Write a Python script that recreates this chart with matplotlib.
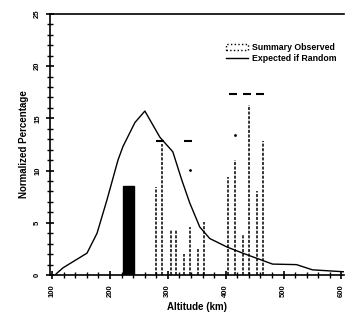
import matplotlib
matplotlib.use('Agg')
import matplotlib.pyplot as plt
from matplotlib.patches import Patch
from matplotlib.lines import Line2D
from matplotlib.ticker import MultipleLocator

# expected-if-random curve
curve_x = [105.2, 108.6, 119.0, 160.3, 177.6, 194.8, 213.8, 222.4, 243.1, 260.3,
           286.2, 308.6, 324.1, 337.9, 355.2, 372.4, 401.7, 429.3, 463.8, 481.0,
           522.4, 550.0, 608.6]
curve_y = [0.0, 0.2, 0.7, 2.1, 4.0, 7.2, 11.0, 12.3, 14.6, 15.7,
           13.2, 11.8, 9.1, 6.9, 4.6, 3.5, 2.7, 2.1, 1.4, 1.05,
           1.0, 0.5, 0.3]

# observed summary
big_x = 232.8
big_h = 8.5
obs_x = [279.3, 289.7, 305.2, 313.8, 327.6, 337.9, 351.7, 362.1, 403.4, 415.5,
         429.3, 439.7, 453.4, 463.8]
obs_h = [8.4, 12.5, 4.3, 4.3, 2.0, 4.6, 2.6, 5.1, 9.4, 11.0,
         3.8, 16.3, 8.0, 12.8]
cap_x = [286.2, 334.5, 412.0, 436.0, 460.0]
cap_y = [12.8, 12.8, 17.3, 17.3, 17.3]
dot_x = [337.9, 415.5]
dot_y = [10.1, 13.4]

xticks = [100, 200, 300, 400, 500, 600]
yticks = [0, 5, 10, 15, 20, 25]

plt.rcParams['font.family'] = ['Liberation Sans', 'DejaVu Sans']

fig = plt.figure(figsize=(3.46, 3.31), dpi=100)
ax = fig.add_axes([0.145, 0.169, 0.85, 0.789])

ax.bar([big_x], [big_h], width=19, color='black', edgecolor='black')
ax.vlines(obs_x, 0, obs_h, colors='black', linewidth=1.1, linestyles=(0, (2, 1)))
ax.plot(cap_x, cap_y, linestyle='none', marker='_', markersize=6, color='black', mew=1.5)
ax.plot(dot_x, dot_y, linestyle='none', marker='.', markersize=2, color='black')
ax.plot(curve_x, curve_y, color='black', linewidth=1)

ax.set_xlim(96.6, 605)
ax.set_ylim(0, 25)
ax.set_xticks(xticks)
ax.set_yticks(yticks)
ax.set_xticklabels([str(v) for v in xticks], rotation=90, fontsize=5.5, fontweight='bold')
ax.set_yticklabels([str(v) for v in yticks], rotation=90, fontsize=5.5, fontweight='bold',
                   va='center')
ax.xaxis.set_minor_locator(MultipleLocator(20))
ax.yaxis.set_minor_locator(MultipleLocator(1))
ax.tick_params(which='major', direction='inout', length=6, width=1.2)
ax.tick_params(which='minor', direction='inout', length=4, width=1)
ax.spines['right'].set_visible(False)
for s in ['left', 'bottom', 'top']:
    ax.spines[s].set_linewidth(1.2)

ax.set_xlabel('Altitude (km)', fontsize=7, fontweight='bold')
ax.set_ylabel('Normalized Percentage', fontsize=7, fontweight='bold')

handles = [Patch(facecolor='white', edgecolor='black', linestyle=':'),
           Line2D([0], [0], color='black', linewidth=1)]
ax.legend(handles, ['Summary Observed', 'Expected if Random'], loc='upper right',
          bbox_to_anchor=(1.0, 0.92), frameon=False,
          handlelength=2.6, handletextpad=0.4, labelspacing=0.3,
          prop={'weight': 'bold', 'size': 6.3})

fig.savefig('out.png', dpi=100)
